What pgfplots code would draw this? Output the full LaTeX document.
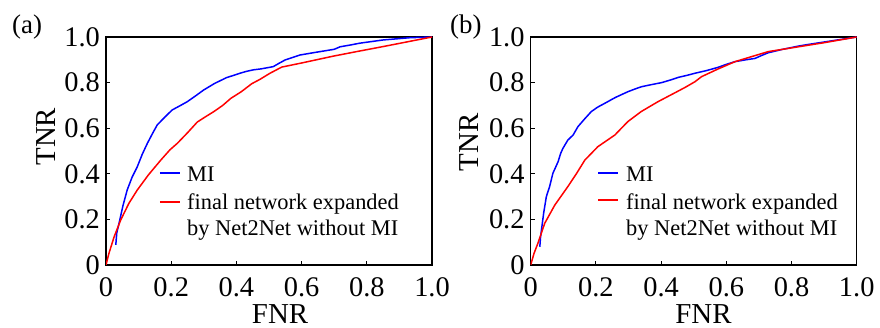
\documentclass[border=0pt]{standalone}
\usepackage{fontspec}
\setmainfont{Liberation Serif}
\usepackage{pgfplots}
\pgfplotsset{compat=1.18}
\definecolor{myblue}{RGB}{0,0,255}
\definecolor{myred}{RGB}{255,0,0}
\pgfplotsset{
  rocstyle/.style={
    scale only axis, width=326bp, height=228bp,
    xmin=0, xmax=1, ymin=0, ymax=1,
    xtick={0,0.2,0.4,0.6,0.8,1}, xticklabels={0,0.2,0.4,0.6,0.8,1.0},
    ytick={0,0.2,0.4,0.6,0.8,1}, yticklabels={0,0.2,0.4,0.6,0.8,1.0},
    tick align=inside, xtick pos=bottom, ytick pos=left,
    major tick length=4bp,
    every tick/.style={black, line width=1bp},
    axis line style={line width=1.2bp},
    /pgf/number format/assume math mode=true,
    tick label style={font=\fontsize{28.5}{28.5}\selectfont},
    xticklabel style={inner sep=0pt, anchor=north, yshift=-12bp},
    yticklabel style={inner sep=0pt, anchor=east, xshift=-6bp},
    label style={font=\fontsize{29}{29}\selectfont, inner sep=0pt},
    xlabel={FNR}, ylabel={TNR},
  },
}
\tikzset{legtext/.style={anchor=base west, inner sep=0pt, font=\fontsize{22.5}{27}\selectfont}}
\begin{document}
\begin{tikzpicture}
\begin{axis}[rocstyle, at={(106bp,63bp)}, anchor=south west,
  xlabel style={at={(axis description cs:0.534,-0.258)}, anchor=base},
  ylabel style={at={(axis description cs:-0.156,0.563)}, anchor=base}]
\addplot[myblue, line width=1.5bp] coordinates {
(0.030,0.088) (0.033,0.14) (0.040,0.183) (0.052,0.26) (0.065,0.329) (0.080,0.385)
(0.096,0.431) (0.111,0.485) (0.127,0.534) (0.142,0.575) (0.157,0.614) (0.180,0.648)
(0.203,0.680) (0.225,0.697) (0.249,0.716) (0.275,0.742) (0.300,0.768) (0.334,0.797)
(0.350,0.808) (0.370,0.822) (0.390,0.831) (0.411,0.841) (0.430,0.849) (0.452,0.856)
(0.475,0.860) (0.498,0.866) (0.513,0.870) (0.530,0.884) (0.549,0.899) (0.570,0.909)
(0.595,0.921) (0.640,0.932) (0.687,0.943) (0.700,0.946) (0.718,0.957) (0.750,0.965)
(0.779,0.973) (0.850,0.987) (0.933,0.997) (1,1)};
\addplot[myred, line width=1.5bp] coordinates {
(0,0) (0.009,0.051) (0.025,0.124) (0.045,0.197) (0.070,0.27) (0.096,0.329)
(0.130,0.395) (0.168,0.46) (0.196,0.505) (0.219,0.534) (0.250,0.58) (0.280,0.627)
(0.305,0.650) (0.331,0.673) (0.358,0.700) (0.383,0.731) (0.415,0.760) (0.447,0.795)
(0.472,0.814) (0.503,0.841) (0.539,0.868) (0.600,0.886) (0.697,0.916) (0.769,0.936)
(0.850,0.958) (1,1)};
% legend
\draw[myblue, line width=1.5bp] (axis description cs:0.1656,0.4035) -- (axis description cs:0.227,0.4035);
\draw[myred, line width=1.5bp] (axis description cs:0.1656,0.2763) -- (axis description cs:0.227,0.2763);
\node[legtext] at (axis description cs:0.2485,0.3654) {MI};
\node[legtext] at (axis description cs:0.2485,0.2456) {final network expanded};
\node[legtext] at (axis description cs:0.2485,0.1272) {by Net2Net without MI};
\end{axis}
\begin{axis}[rocstyle, at={(530.7bp,63bp)}, anchor=south west,
  xlabel style={at={(axis description cs:0.53,-0.258)}, anchor=base},
  ylabel style={at={(axis description cs:-0.161,0.537)}, anchor=base}]
\addplot[myblue, line width=1.5bp] coordinates {
(0.028,0.080) (0.030,0.12) (0.033,0.154) (0.040,0.23) (0.048,0.300) (0.058,0.344)
(0.068,0.402) (0.084,0.453) (0.092,0.49) (0.099,0.512) (0.114,0.548) (0.130,0.570)
(0.145,0.607) (0.165,0.640) (0.186,0.673) (0.205,0.692) (0.227,0.709) (0.260,0.735)
(0.298,0.760) (0.320,0.772) (0.340,0.782) (0.370,0.791) (0.402,0.800) (0.430,0.812)
(0.453,0.823) (0.480,0.832) (0.504,0.841) (0.540,0.853) (0.575,0.867) (0.600,0.880)
(0.627,0.892) (0.660,0.900) (0.688,0.906) (0.710,0.920) (0.729,0.931) (0.770,0.945)
(0.821,0.960) (0.850,0.967) (1,1)};
\addplot[myred, line width=1.5bp] coordinates {
(0,0) (0.010,0.05) (0.022,0.095) (0.043,0.183) (0.074,0.263) (0.114,0.344)
(0.140,0.400) (0.166,0.460) (0.206,0.519) (0.258,0.570) (0.298,0.629) (0.339,0.673)
(0.390,0.716) (0.442,0.755) (0.475,0.780) (0.504,0.804) (0.524,0.826) (0.575,0.860)
(0.627,0.892) (0.680,0.915) (0.729,0.936) (0.821,0.957) (0.900,0.975) (1,1)};
% legend
\draw[myblue, line width=1.5bp] (axis description cs:0.2074,0.4035) -- (axis description cs:0.2687,0.4035);
\draw[myred, line width=1.5bp] (axis description cs:0.2074,0.2851) -- (axis description cs:0.2687,0.2851);
\node[legtext] at (axis description cs:0.2923,0.3654) {MI};
\node[legtext] at (axis description cs:0.2923,0.2456) {final network expanded};
\node[legtext] at (axis description cs:0.2923,0.1272) {by Net2Net without MI};
\end{axis}
\node[anchor=base west, inner sep=0pt, font=\fontsize{27}{27}\selectfont] at (12bp,294.6bp) {(a)};
\node[anchor=base west, inner sep=0pt, font=\fontsize{27}{27}\selectfont] at (450bp,294.6bp) {(b)};
\pgfresetboundingbox
\path (0,0) rectangle (880bp,328bp);
\end{tikzpicture}
\end{document}
